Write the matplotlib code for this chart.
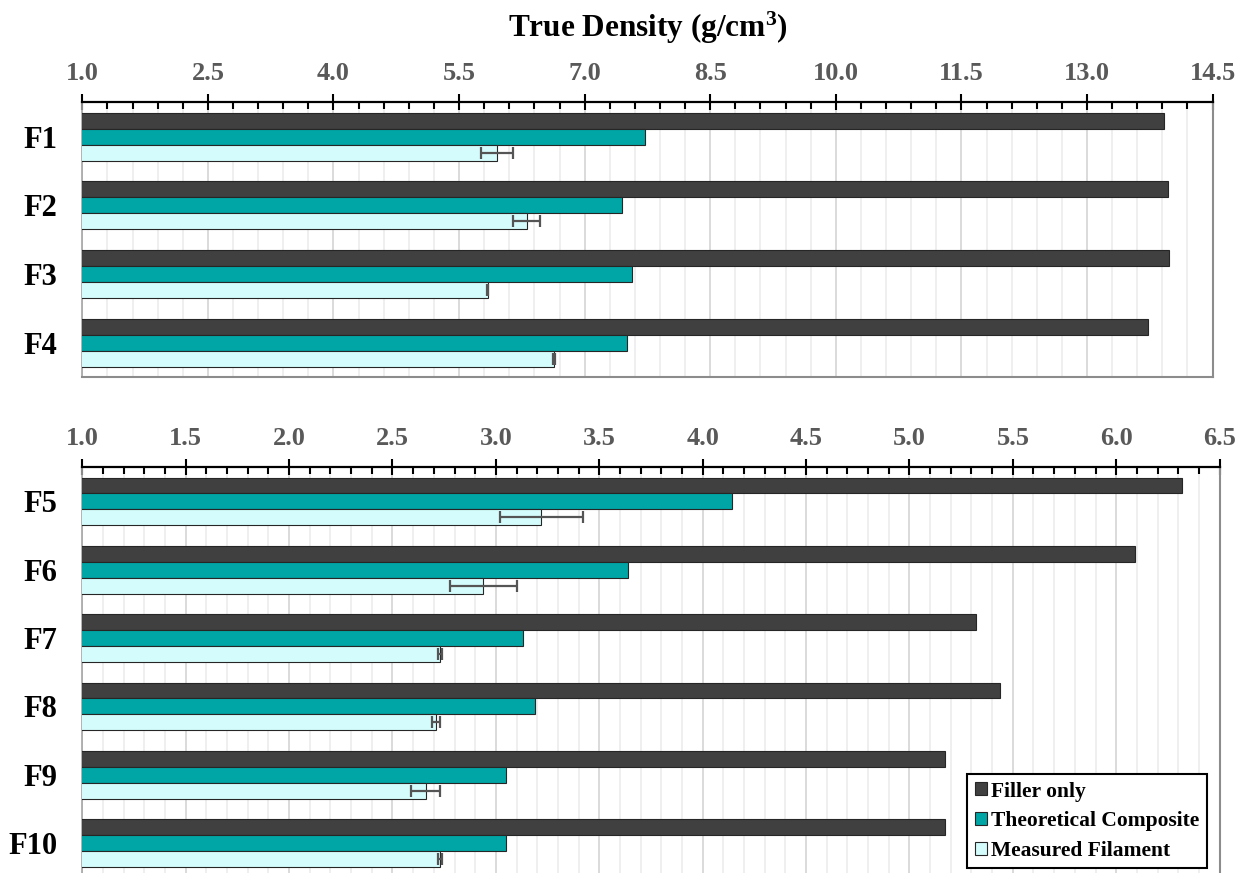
import matplotlib
matplotlib.use("Agg")
import matplotlib.pyplot as plt
from matplotlib.ticker import FixedLocator, FormatStrFormatter
import numpy as np

plt.rcParams["font.family"] = ["Liberation Serif", "DejaVu Serif"]
plt.rcParams["font.weight"] = "bold"
plt.rcParams["mathtext.fontset"] = "custom"
plt.rcParams["mathtext.rm"] = "Liberation Serif:bold"
plt.rcParams["mathtext.bf"] = "Liberation Serif:bold"
plt.rcParams["mathtext.it"] = "Liberation Serif:bold"

# ---- data -------------------------------------------------------------
series_names = ["Filler only", "Theoretical Composite", "Measured Filament"]
series_colors = ["#404040", "#00A6A6", "#D5FCFC"]

top_labels = ["F1", "F2", "F3", "F4"]
top_filler = [13.92, 13.97, 13.98, 13.73]
top_theory = [7.72, 7.45, 7.57, 7.51]
top_measured = [5.95, 6.31, 5.84, 6.63]
top_err = [0.19, 0.16, 0.01, 0.01]

bot_labels = ["F5", "F6", "F7", "F8", "F9", "F10"]
bot_filler = [6.32, 6.09, 5.32, 5.44, 5.17, 5.17]
bot_theory = [4.14, 3.64, 3.13, 3.19, 3.05, 3.05]
bot_measured = [3.22, 2.94, 2.73, 2.71, 2.66, 2.73]
bot_err = [0.20, 0.16, 0.01, 0.02, 0.07, 0.01]

# ---- figure -----------------------------------------------------------
W, H = 1249, 873
fig = plt.figure(figsize=(W / 100, H / 100), dpi=100)


def px_axes(left, top, right, bottom):
    return fig.add_axes([left / W, 1 - bottom / H, (right - left) / W, (bottom - top) / H])


def draw_panel(ax, labels, filler, theory, measured, err, xmin, xmax, major, minor):
    y = np.arange(len(labels))
    h = 0.2333
    handles = []
    for off, vals, col in zip([-h, 0.0, h], [filler, theory, measured], series_colors):
        bars = ax.barh(y + off, vals, height=h, color=col, edgecolor="#262626",
                       linewidth=0.8, zorder=3)
        handles.append(bars)
    ax.errorbar(measured, y + h, xerr=err, fmt="none", ecolor="#555555",
                elinewidth=1.6, capsize=4, capthick=1.6, zorder=4)

    ax.set_xlim(xmin, xmax)
    ax.set_ylim(len(labels) - 0.5, -0.5)
    ax.xaxis.set_major_locator(FixedLocator(np.arange(xmin, xmax + 1e-6, major)))
    ax.xaxis.set_minor_locator(FixedLocator(np.arange(xmin, xmax + 1e-6, minor)))
    ax.xaxis.set_major_formatter(FormatStrFormatter("%.1f"))
    ax.xaxis.tick_top()
    ax.tick_params(axis="x", which="major", direction="inout", length=11, width=1.5,
                   color="black", labelsize=19, labelcolor="#595959", pad=7)
    ax.tick_params(axis="x", which="minor", direction="in", length=5, width=1.5,
                   color="black")
    ax.set_yticks(y)
    ax.set_yticklabels(labels)
    ax.tick_params(axis="y", length=0, labelsize=22, pad=18, labelcolor="black")

    ax.grid(axis="x", which="major", color="#d4d4d4", linewidth=1.2, zorder=0)
    ax.grid(axis="x", which="minor", color="#ececec", linewidth=1.2, zorder=0)
    ax.set_axisbelow(True)

    ax.spines["top"].set_color("black")
    ax.spines["top"].set_linewidth(1.6)
    ax.spines["left"].set_color("#a6a6a6")
    ax.spines["left"].set_linewidth(1.2)
    for side in ("right", "bottom"):
        ax.spines[side].set_color("#8c8c8c")
        ax.spines[side].set_linewidth(1.5)
    return handles


ax_top = px_axes(82.3, 102.3, 1212.6, 377.3)
ax_bot = px_axes(82.3, 467.3, 1219.6, 877.3)

draw_panel(ax_top, top_labels, top_filler, top_theory, top_measured, top_err,
           1.0, 14.5, 1.5, 0.3)
handles = draw_panel(ax_bot, bot_labels, bot_filler, bot_theory, bot_measured, bot_err,
                     1.0, 6.5, 0.5, 0.1)

fig.text(647.5 / W, 1 - 37 / H, "True Density (g/cm$^3$)", ha="center", va="baseline",
         fontsize=22.5, fontweight="bold")

leg = ax_bot.legend(handles, series_names, loc="upper left",
                    bbox_to_anchor=(967.3 / W, 1 - 774 / H), bbox_transform=fig.transFigure,
                    borderaxespad=0, fontsize=15.5, frameon=True, fancybox=False,
                    edgecolor="black", framealpha=1, handlelength=0.56, handleheight=0.56,
                    handletextpad=0.2, labelspacing=0.45, borderpad=0.35)
leg.get_frame().set_linewidth(1.5)
leg.set_zorder(10)

fig.savefig("out.png", dpi=100)
